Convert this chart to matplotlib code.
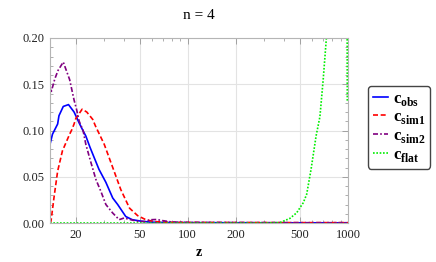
import matplotlib
matplotlib.use("Agg")
import matplotlib.pyplot as plt
from matplotlib.ticker import FixedLocator, MultipleLocator, NullFormatter

plt.rcParams['font.family'] = ['Liberation Serif', 'DejaVu Serif']
plt.rcParams['mathtext.fontset'] = 'custom'
plt.rcParams['mathtext.rm'] = 'Liberation Serif'
plt.rcParams['mathtext.bf'] = 'Liberation Serif:bold'

# values
z_obs = [13.8, 14.3, 15.4, 15.7, 16.7, 18.0, 19.5, 21.0, 22.0, 23.1, 24.5, 26.0,
         27.9, 30.8, 34.0, 36.5, 41.0, 45.0, 51.0, 58.0, 70.0, 100.0, 200.0, 500.0, 1000.0]
c_obs = [0.085, 0.096, 0.107, 0.116, 0.126, 0.128, 0.120, 0.108, 0.101, 0.094, 0.082, 0.071,
         0.058, 0.044, 0.027, 0.020, 0.007, 0.0036, 0.002, 0.001, 0.0006, 0.0004, 0.0003, 0.0002, 0.0002]

z_sim1 = [13.8, 14.0, 14.6, 15.4, 16.5, 18.3, 18.9, 19.5, 20.0, 21.9, 23.4, 25.5, 26.5,
          30.1, 34.0, 38.2, 43.3, 48.6, 54.8, 62.0, 75.0, 100.0, 200.0, 500.0, 1000.0]
c_sim1 = [0.0, 0.002, 0.027, 0.056, 0.078, 0.096, 0.101, 0.107, 0.113, 0.123, 0.120, 0.112, 0.105,
          0.085, 0.060, 0.036, 0.016, 0.008, 0.0035, 0.0015, 0.0008, 0.0006, 0.0005, 0.0004, 0.0004]

z_sim2 = [13.8, 14.0, 14.8, 15.5, 16.7, 18.3, 19.5, 20.2, 21.0, 22.2, 23.1, 24.7, 26.7,
          28.7, 30.8, 33.9, 37.3, 40.0, 44.0, 48.0, 54.0, 58.0, 64.0, 70.0, 80.0,
          100.0, 200.0, 500.0, 1000.0]
c_sim2 = [0.148, 0.141, 0.156, 0.165, 0.174, 0.155, 0.133, 0.123, 0.110, 0.100, 0.085, 0.067, 0.047,
          0.034, 0.020, 0.011, 0.0036, 0.0054, 0.0036, 0.002, 0.0015, 0.0035, 0.0038, 0.0025, 0.001,
          0.0006, 0.0004, 0.0003, 0.0003]

z_flat = [13.8, 100.0, 300.0, 377.0, 434.0, 478.0, 526.0, 552.0, 588.0, 632.0, 668.0,
          700.0, 733.0, 800.0, 900.0, 985.0, 990.0]
c_flat = [0.0, 0.0, 0.0, 0.0005, 0.005, 0.011, 0.022, 0.031, 0.058, 0.094, 0.115,
          0.155, 0.20, 0.30, 0.40, 0.35, 0.131]

x_ticks = [20, 50, 100, 200, 500, 1000]
y_ticks = [0.0, 0.05, 0.10, 0.15, 0.20]

fig = plt.figure(figsize=(4.36, 2.62), dpi=100)
ax = fig.add_axes([50 / 436, 39 / 262, 298 / 436, 185 / 262])

lw = 1.2
ax.plot(z_obs, c_obs, color='#0000ff', lw=lw, label=r'$\mathbf{c}_{\mathbf{obs}}$')
ax.plot(z_sim1, c_sim1, color='#ff0000', lw=lw, dashes=(3, 1.6), label=r'$\mathbf{c}_{\mathbf{sim1}}$')
ax.plot(z_sim2, c_sim2, color='#800080', lw=lw, dashes=(3, 1.3, 1, 1.3), label=r'$\mathbf{c}_{\mathbf{sim2}}$')
ax.plot(z_flat, c_flat, color='#00ee00', lw=lw, dashes=(1, 1), label=r'$\mathbf{c}_{\mathbf{flat}}$')

ax.set_xscale('log')
ax.set_xlim(13.8, 1000)
ax.set_ylim(0, 0.20)
ax.xaxis.set_major_locator(FixedLocator(x_ticks))
ax.set_xticklabels([str(t) for t in x_ticks])
ax.xaxis.set_minor_formatter(NullFormatter())
ax.set_yticks(y_ticks)
ax.set_yticklabels(['%.2f' % t for t in y_ticks])
ax.yaxis.set_minor_locator(MultipleLocator(0.01))

ax.grid(True, which='major', color='#e3e3e3', lw=0.8)
ax.set_axisbelow(True)
for s in ax.spines.values():
    s.set_color('#b5b5b5')
    s.set_linewidth(0.8)
ax.tick_params(which='both', direction='in', top=True, right=True, color='#a0a0a0',
               labelsize=9, labelcolor='#222222', pad=4)
ax.tick_params(which='major', length=4, width=0.7)
ax.tick_params(which='minor', length=2, width=0.6)

ax.set_xlabel('z', fontsize=10, fontweight='bold', labelpad=4)
fig.text(0.455, 0.94, 'n = 4', ha='center', va='center', fontsize=11)

leg = ax.legend(loc='center left', bbox_to_anchor=(368 / 436, 1 - 127 / 262),
                bbox_transform=fig.transFigure, fontsize=12, handlelength=0.9,
                handletextpad=0.3, labelspacing=0.1, borderpad=0.3,
                fancybox=True, framealpha=1, edgecolor='#444444', borderaxespad=0)
leg.get_frame().set_linewidth(1.0)

fig.savefig('out.png', dpi=100)
